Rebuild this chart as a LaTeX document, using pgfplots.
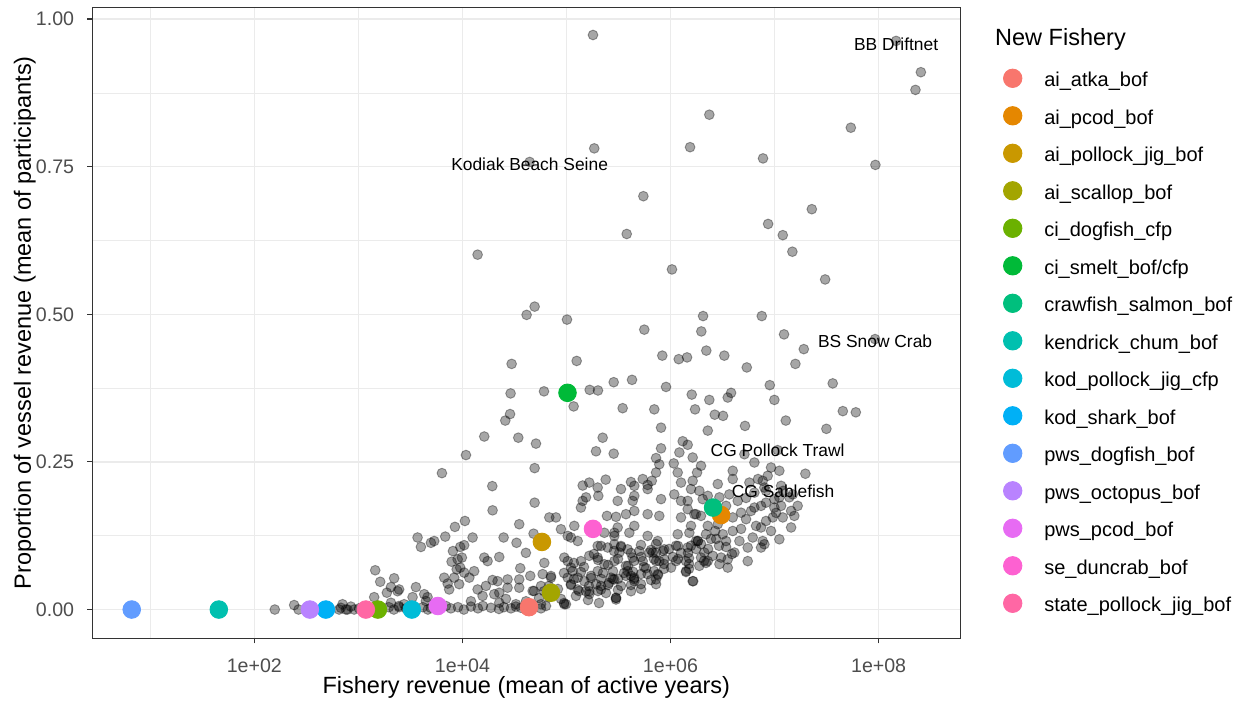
\documentclass[border=0pt]{standalone}
\usepackage{pgfplots}
\pgfplotsset{compat=1.18}
\usepackage{pgfplotstable}
\usepackage{fontspec}
\setmainfont{Liberation Sans}
\definecolor{c1}{HTML}{F8766D}
\definecolor{c2}{HTML}{E58700}
\definecolor{c3}{HTML}{C99800}
\definecolor{c4}{HTML}{A3A500}
\definecolor{c5}{HTML}{6BB100}
\definecolor{c6}{HTML}{00BA38}
\definecolor{c7}{HTML}{00BF7D}
\definecolor{c8}{HTML}{00C0AF}
\definecolor{c9}{HTML}{00BCD8}
\definecolor{c10}{HTML}{00B0F6}
\definecolor{c11}{HTML}{619CFF}
\definecolor{c12}{HTML}{B983FF}
\definecolor{c13}{HTML}{E76BF3}
\definecolor{c14}{HTML}{FD61D1}
\definecolor{c15}{HTML}{FF67A4}
\definecolor{gridc}{HTML}{EBEBEB}
\definecolor{framec}{HTML}{333333}
\definecolor{tickc}{HTML}{4D4D4D}

% log10 of fishery revenue, proportion of vessel revenue
\pgfplotstableread{
lrev prop
5.255 0.973
6.373 0.838
5.267 0.781
6.188 0.783
6.889 0.764
7.733 0.816
7.969 0.753
8.406 0.910
8.354 0.880
8.168 0.963
4.646 0.758
5.739 0.700
5.579 0.636
7.358 0.678
6.938 0.653
7.079 0.634
7.171 0.606
6.014 0.576
7.486 0.559
4.694 0.513
4.617 0.499
5.005 0.491
6.313 0.497
6.877 0.497
4.146 0.601
5.748 0.474
6.296 0.471
7.091 0.466
7.966 0.458
7.281 0.441
5.921 0.430
6.079 0.424
6.159 0.427
6.344 0.4385
6.517 0.430
6.733 0.410
7.200 0.416
5.630 0.389
5.957 0.377
6.954 0.380
7.559 0.383
6.204 0.364
6.373 0.355
6.550 0.359
6.582 0.367
6.998 0.355
5.540 0.341
5.844 0.339
6.236 0.339
6.425 0.330
6.505 0.328
7.656 0.336
7.781 0.334
5.909 0.308
6.358 0.303
6.716 0.311
7.108 0.320
7.498 0.306
7.296 0.230
4.473 0.416
5.098 0.421
4.463 0.366
4.784 0.3695
5.223 0.372
5.303 0.371
5.454 0.385
5.069 0.344
4.412 0.320
4.458 0.331
4.210 0.293
4.537 0.291
4.707 0.281
5.348 0.291
5.284 0.268
5.454 0.264
5.909 0.273
6.117 0.285
6.165 0.279
4.694 0.2395
4.287 0.209
4.290 0.168
4.694 0.181
4.034 0.2616
3.803 0.231
5.156 0.210
5.300 0.2066
5.377 0.220
5.620 0.216
5.861 0.2565
7.029 0.270
7.082 0.201
4.024 0.150
3.928 0.140
3.835 0.1235
3.569 0.122
3.601 0.106
3.697 0.113
3.729 0.116
4.098 0.122
4.017 0.109
3.979 0.106
3.909 0.099
3.896 0.081
3.954 0.085
3.995 0.088
3.945 0.068
3.825 0.054
3.858 0.044
3.969 0.043
4.066 0.054
4.113 0.065
4.017 0.0625
3.979 0.071
3.921 0.054
3.162 0.0665
3.210 0.047
3.344 0.053
3.313 0.038
3.392 0.034
3.274 0.0285
3.553 0.038
3.521 0.021
3.665 0.021
3.152 0.021
3.313 0.0115
3.392 0.004
4.146 0.034
4.226 0.040
4.306 0.026
4.194 0.023
4.338 0.048
4.434 0.051
4.290 0.050
4.556 0.070
4.546 0.051
4.434 0.037
4.354 0.0115
4.514 0.009
4.354 0.0285
4.210 0.088
4.242 0.082
4.354 0.089
4.396 0.122
4.520 0.113
4.610 0.096
4.546 0.1445
4.684 0.1285
4.652 0.057
4.787 0.079
4.771 0.060
4.851 0.054
4.675 0.0315
4.755 0.009
4.979 0.009
4.835 0.156
4.899 0.156
4.947 0.136
5.075 0.1417
5.043 0.122
5.108 0.116
5.139 0.1727
5.188 0.190
4.979 0.088
5.043 0.071
5.108 0.034
5.012 0.054
5.306 0.1925
5.012 0.1247
5.389 0.1586
5.476 0.157
5.492 0.139
5.604 0.130
5.460 0.1247
5.300 0.1077
5.652 0.1417
5.652 0.167
5.780 0.1615
5.892 0.1586
5.780 0.1247
5.652 0.1925
5.780 0.211
5.909 0.187
6.036 0.195
6.165 0.184
6.101 0.156
6.229 0.1615
6.069 0.1275
6.181 0.130
6.261 0.116
6.149 0.065
6.213 0.048
6.053 0.082
5.940 0.102
5.861 0.0965
5.796 0.0965
5.892 0.082
5.861 0.051
5.700 0.099
5.636 0.088
5.588 0.102
5.508 0.0965
5.460 0.082
5.364 0.0767
5.300 0.065
5.236 0.057
5.172 0.048
5.043 0.043
5.059 0.065
5.139 0.082
5.219 0.091
5.300 0.088
5.396 0.105
5.524 0.1077
5.428 0.054
5.476 0.017
5.652 0.054
5.716 0.043
5.332 0.034
5.219 0.031
5.108 0.054
4.546 0.037
6.293 0.088
6.149 0.082
5.012 0.082
6.085 0.266
6.213 0.2575
6.293 0.2434
6.255 0.232
6.031 0.2475
5.892 0.246
5.861 0.232
5.820 0.218
5.780 0.204
5.733 0.221
6.069 0.232
6.101 0.215
6.213 0.218
6.197 0.204
6.277 0.201
6.309 0.187
6.101 0.184
6.165 0.170
6.245 0.1615
6.165 0.105
6.245 0.116
6.341 0.1275
6.358 0.1417
6.454 0.1445
6.502 0.1275
6.598 0.133
6.614 0.0965
6.550 0.071
6.742 0.082
6.662 0.116
6.790 0.122
6.886 0.116
6.870 0.139
6.726 0.153
6.774 0.167
6.646 0.184
6.565 0.195
6.454 0.2125
6.470 0.190
6.358 0.1925
6.598 0.156
6.678 0.164
6.806 0.198
6.758 0.215
6.598 0.221
6.598 0.235
6.886 0.218
6.934 0.2265
6.806 0.249
6.710 0.263
7.046 0.235
7.063 0.2095
6.918 0.201
7.046 0.190
6.998 0.1727
6.918 0.181
7.142 0.190
7.222 0.1756
7.190 0.1586
7.079 0.156
6.983 0.156
7.159 0.139
7.046 0.119
6.742 0.105
6.550 0.085
6.406 0.091
6.325 0.0965
6.341 0.079
5.940 0.085
5.877 0.060
6.005 0.071
5.780 0.060
5.652 0.048
5.588 0.065
5.460 0.051
5.733 0.082
5.829 0.0965
5.877 0.116
5.652 0.2095
5.636 0.184
5.572 0.1615
5.219 0.215
5.156 0.184
5.492 0.184
5.524 0.204
5.460 0.130
5.364 0.130
5.460 0.1106
7.175 0.195
6.998 0.187
6.870 0.105
6.966 0.2405
6.902 0.2066
6.806 0.1727
4.947 0.018
4.832 0.021
4.736 0.0195
4.784 0.031
5.332 0.052
5.447 0.065
5.572 0.074
5.716 0.089
5.861 0.082
5.986 0.1026
6.053 0.108
6.197 0.108
5.524 0.040
5.620 0.031
5.380 0.028
5.219 0.026
5.476 0.020
4.995 0.009
6.218 0.048
5.861 0.043
6.358 0.082
6.470 0.077
6.902 0.1106
6.966 0.133
6.486 0.088
6.277 0.074
2.197 0.000
2.383 0.0076
2.425 0.000
2.815 0.000
2.848 0.009
2.896 0.000
2.960 0.000
3.377 0.031
3.873 0.034
3.440 0.009
3.649 0.0144
3.633 0.026
3.697 0.003
2.832 0.003
2.880 0.000
2.928 0.005
3.005 0.002
3.293 0.004
3.341 0.000
3.389 0.006
3.457 0.002
3.620 0.004
3.668 0.000
3.793 0.003
3.841 0.006
3.889 0.002
3.957 0.004
4.014 0.000
4.082 0.005
4.149 0.002
4.197 0.006
4.274 0.003
4.351 0.001
4.399 0.004
4.466 0.002
4.514 0.005
4.563 0.003
4.611 0.000
4.755 0.002
5.332 0.040
5.409 0.045
5.495 0.052
5.572 0.057
5.639 0.064
5.764 0.070
5.841 0.065
5.091 0.023
5.187 0.031
5.284 0.043
5.937 0.069
6.023 0.089
6.101 0.096
6.178 0.087
6.245 0.1026
6.293 0.111
6.389 0.1196
6.466 0.108
6.534 0.116
6.678 0.1366
6.822 0.1417
6.918 0.150
7.014 0.1638
6.389 0.1756
6.293 0.1586
6.534 0.1756
6.197 0.1417
6.430 0.133
6.726 0.189
6.841 0.221
6.870 0.1756
7.063 0.1756
7.159 0.167
4.082 0.014
4.418 0.018
4.611 0.014
4.803 0.006
4.832 0.040
6.591 0.094
6.178 0.069
5.620 0.057
5.264 0.094
5.332 0.1077
5.457 0.0992
5.524 0.106
5.620 0.0958
5.716 0.1094
5.813 0.1009
5.861 0.111
5.928 0.0992
6.072 0.1077
6.168 0.0958
6.264 0.116
6.361 0.1026
6.438 0.1196
6.534 0.106
5.072 0.0789
5.168 0.0721
5.303 0.084
5.399 0.0755
5.495 0.0857
5.591 0.0738
5.649 0.0823
5.745 0.0721
5.841 0.0857
5.938 0.0772
6.072 0.0857
6.178 0.0772
6.322 0.0823
4.851 0.0568
4.976 0.0619
5.072 0.0517
5.139 0.0636
5.236 0.0534
5.351 0.0619
5.447 0.0517
5.553 0.0619
5.649 0.0517
5.716 0.0602
5.813 0.050
5.880 0.0585
6.149 0.0636
4.688 0.0314
4.755 0.0399
4.918 0.0348
5.043 0.0416
5.120 0.0314
5.216 0.0399
5.303 0.0314
5.399 0.0416
5.495 0.0331
5.620 0.0416
5.716 0.0348
4.976 0.011
5.207 0.0161
5.313 0.011
5.476 0.0195
}\graydata

\begin{document}
\begin{tikzpicture}
\path[use as bounding box] (-92.3bp,-63.7bp) rectangle (1154.7bp,638.3bp);
\begin{axis}[
  name=ax, at={(0,0)}, anchor=south west,
  scale only axis, width=868bp, height=631bp,
  xmin=0.443, xmax=8.785, ymin=-0.0487, ymax=1.0199,
  axis line style={draw=framec, line width=1.1bp},
  xtick={2,4,6,8}, xticklabels={1e+02,1e+04,1e+06,1e+08},
  minor xtick={1,3,5,7},
  ytick={0,0.25,0.5,0.75,1}, yticklabels={0.00,0.25,0.50,0.75,1.00},
  minor ytick={0.125,0.375,0.625,0.875},
  tick align=outside, xtick pos=bottom, ytick pos=left,
  major tick length=5bp, minor tick length=0pt,
  tick style={draw=framec, line width=1.1bp},
  grid=both,
  major grid style={draw=gridc, line width=1.2bp},
  minor grid style={draw=gridc, line width=0.6bp},
  xticklabel style={anchor=north, inner sep=0pt, yshift=-15.5bp, text=tickc, font=\fontsize{19.6bp}{23bp}\selectfont},
  yticklabel style={anchor=east, inner sep=0pt, xshift=-13bp, text=tickc, font=\fontsize{19.6bp}{23bp}\selectfont},
  legend style={at={(axis description cs:1,1)}, anchor=north west, xshift=42.4bp, yshift=-59.4bp,
    draw=none, fill=none, inner sep=0pt, outer sep=0pt, row sep=12.5bp, column sep=21.6bp,
    font=\fontsize{20bp}{24bp}\selectfont,
    nodes={inner sep=0pt, text height=14bp, text depth=4bp, anchor=base west}},
  legend image code/.code={
    \path[draw=none, fill=none] (0bp,-5bp) rectangle (20bp,20bp);
    \draw[#1, mark size=9.2bp] plot coordinates {(10bp,8.4bp)};
  },
]
\node[font=\fontsize{17.4bp}{20bp}\selectfont, inner sep=0pt] at (axis cs:8.168,0.958) {BB Driftnet};
\node[font=\fontsize{17.4bp}{20bp}\selectfont, inner sep=0pt] at (axis cs:4.646,0.754) {Kodiak Beach Seine};
\node[font=\fontsize{17.4bp}{20bp}\selectfont, inner sep=0pt] at (axis cs:7.966,0.454) {BS Snow Crab};
\node[font=\fontsize{17.4bp}{20bp}\selectfont, inner sep=0pt] at (axis cs:7.029,0.270) {CG Pollock Trawl};
\node[font=\fontsize{17.4bp}{20bp}\selectfont, inner sep=0pt] at (axis cs:7.082,0.201) {CG Sablefish};

\addplot[forget plot, only marks, mark=*, mark size=4.9bp,
  mark options={draw=black, fill=black, draw opacity=0.35, fill opacity=0.35, line width=0.9bp}]
  table[x=lrev, y=prop] {\graydata};

\addplot[only marks, mark=*, mark size=8.8bp, mark options={draw=c1, fill=c1, line width=0.9bp}] coordinates {(4.640,0.004)};
\addlegendentry{ai\_atka\_bof}
\addplot[only marks, mark=*, mark size=8.8bp, mark options={draw=c2, fill=c2, line width=0.9bp}] coordinates {(6.486,0.160)};
\addlegendentry{ai\_pcod\_bof}
\addplot[only marks, mark=*, mark size=8.8bp, mark options={draw=c3, fill=c3, line width=0.9bp}] coordinates {(4.764,0.1145)};
\addlegendentry{ai\_pollock\_jig\_bof}
\addplot[only marks, mark=*, mark size=8.8bp, mark options={draw=c4, fill=c4, line width=0.9bp}] coordinates {(4.851,0.0285)};
\addlegendentry{ai\_scallop\_bof}
\addplot[only marks, mark=*, mark size=8.8bp, mark options={draw=c5, fill=c5, line width=0.9bp}] coordinates {(3.188,0.000)};
\addlegendentry{ci\_dogfish\_cfp}
\addplot[only marks, mark=*, mark size=8.8bp, mark options={draw=c6, fill=c6, line width=0.9bp}] coordinates {(5.010,0.367)};
\addlegendentry{ci\_smelt\_bof/cfp}
\addplot[only marks, mark=*, mark size=8.8bp, mark options={draw=c7, fill=c7, line width=0.9bp}] coordinates {(6.409,0.1727)};
\addlegendentry{crawfish\_salmon\_bof}
\addplot[only marks, mark=*, mark size=8.8bp, mark options={draw=c8, fill=c8, line width=0.9bp}] coordinates {(1.659,0.000)};
\addlegendentry{kendrick\_chum\_bof}
\addplot[only marks, mark=*, mark size=8.8bp, mark options={draw=c9, fill=c9, line width=0.9bp}] coordinates {(3.514,0.000)};
\addlegendentry{kod\_pollock\_jig\_cfp}
\addplot[only marks, mark=*, mark size=8.8bp, mark options={draw=c10, fill=c10, line width=0.9bp}] coordinates {(2.688,0.000)};
\addlegendentry{kod\_shark\_bof}
\addplot[only marks, mark=*, mark size=8.8bp, mark options={draw=c11, fill=c11, line width=0.9bp}] coordinates {(0.822,0.000)};
\addlegendentry{pws\_dogfish\_bof}
\addplot[only marks, mark=*, mark size=8.8bp, mark options={draw=c12, fill=c12, line width=0.9bp}] coordinates {(2.534,0.000)};
\addlegendentry{pws\_octopus\_bof}
\addplot[only marks, mark=*, mark size=8.8bp, mark options={draw=c13, fill=c13, line width=0.9bp}] coordinates {(3.764,0.006)};
\addlegendentry{pws\_pcod\_bof}
\addplot[only marks, mark=*, mark size=8.8bp, mark options={draw=c14, fill=c14, line width=0.9bp}] coordinates {(5.255,0.1366)};
\addlegendentry{se\_duncrab\_bof}
\addplot[only marks, mark=*, mark size=8.8bp, mark options={draw=c15, fill=c15, line width=0.9bp}] coordinates {(3.072,0.000)};
\addlegendentry{state\_pollock\_jig\_bof}
\end{axis}
\node[anchor=base, inner sep=0pt, font=\fontsize{23.5bp}{28bp}\selectfont] at ([yshift=-54.7bp]ax.south) {Fishery revenue (mean of active years)};
\node[rotate=90, anchor=base, inner sep=0pt, font=\fontsize{23.5bp}{28bp}\selectfont] at ([xshift=-61.3bp]ax.west) {Proportion of vessel revenue (mean of participants)};
\node[anchor=base west, inner sep=0pt, font=\fontsize{23.5bp}{28bp}\selectfont] at ([xshift=34.7bp, yshift=-38.7bp]ax.north east) {New Fishery};
\end{tikzpicture}
\end{document}
